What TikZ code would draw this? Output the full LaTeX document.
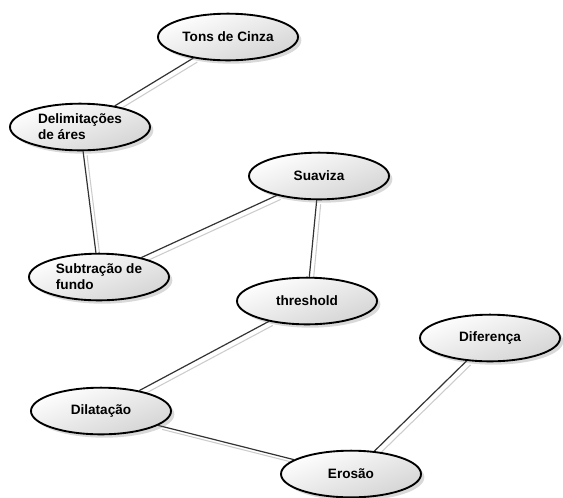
\documentclass[tikz,border=0pt]{standalone}
\usepackage{fontspec}
\setmainfont{Liberation Sans}
\usetikzlibrary{shapes.geometric,shadows,backgrounds}
\begin{document}
\begin{tikzpicture}[x=0.75pt,y=-0.75pt,
  usecase/.style={ellipse,draw=black,line width=1.4pt,inner sep=0pt,
    minimum width=105pt,minimum height=35pt,
    top color=white,bottom color=black!17,shading angle=20,
    drop shadow={shadow xshift=2.5pt,shadow yshift=-2.5pt,opacity=0.25,fill=black!60},
    font=\bfseries\fontsize{10.2}{12}\selectfont,align=left},
  link/.style={draw=black!80,line width=0.9pt},
  linkshadow/.style={draw=black!20,line width=0.8pt,transform canvas={shift={(3pt,-3pt)}}}]
\useasboundingbox (0,0) rectangle (563,497);
\node[usecase] (T) at (228,37) {Tons de Cinza};
\node[usecase] (D) at (80,127) {Delimitações\\de áres};
\node[usecase] (S) at (99,277) {Subtração de\\fundo};
\node[usecase] (Su) at (319,176) {Suaviza};
\node[usecase] (Th) at (307,301) {threshold};
\node[usecase] (Df) at (490,338) {Diferença};
\node[usecase] (Di) at (101,411) {Dilatação};
\node[usecase] (E) at (351,474) {Erosão};
\begin{scope}[on background layer]
  \foreach \a/\b in {T/D,D/S,S/Su,Su/Th,Th/Di,Di/E,Df/E}{
    \draw[linkshadow] (\a) -- (\b);
    \draw[link] (\a) -- (\b);
  }
\end{scope}
\end{tikzpicture}
\end{document}
